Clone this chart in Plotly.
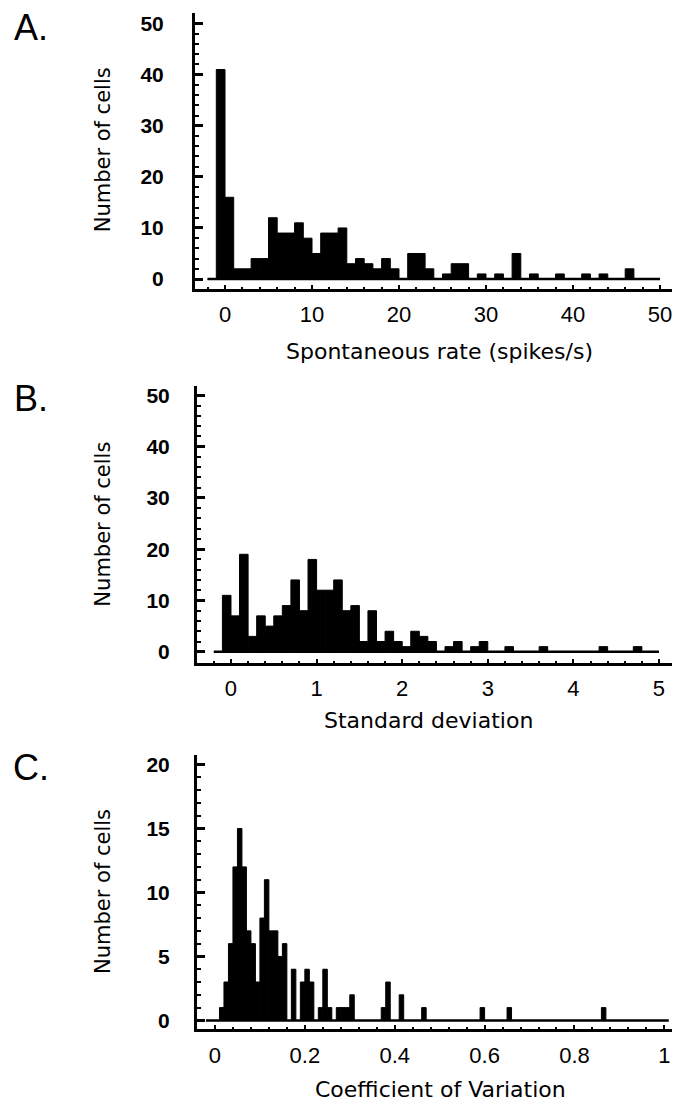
import plotly.graph_objects as go

W, H = 678, 1108

# ---------------- data ----------------
# Panel A: spontaneous rate histogram (bin width 1, left edges start at -2)
rate_bin_start = -2
rate_bin_width = 1
rate_counts = [0, 41, 16, 2, 2, 4, 4, 12, 9, 9, 11, 8, 5, 9, 9, 10, 3, 4, 3, 2, 4, 2,
               0, 5, 5, 2, 0, 1, 3, 3, 0, 1, 0, 1, 0, 5, 0, 1, 0, 0, 1, 0, 0, 1,
               0, 1, 0, 0, 2, 0, 0, 0]
rate_ticks = [0, 10, 20, 30, 40, 50]

# Panel B: standard deviation histogram (bin width 0.1, left edges start at -0.2)
sd_bin_start = -0.2
sd_bin_width = 0.1
sd_counts = [0, 11, 7, 19, 3, 7, 5, 7, 9, 14, 8, 18, 12, 12, 14, 8, 9, 2, 8, 2, 4, 2,
             1, 4, 3, 2, 0, 1, 2, 0, 1, 2, 0, 0, 1, 0, 0, 0, 1, 0, 0, 0, 0, 0, 0,
             1, 0, 0, 0, 1, 0, 0]
sd_ticks = [0, 1, 2, 3, 4, 5]

# Panel C: coefficient of variation histogram (bin width 0.01, range -0.02 .. 1.01)
cv_range = [-0.02, 1.01]
cv_bin_width = 0.01
cv_bin_left = [0.01, 0.02, 0.03, 0.04, 0.05, 0.06, 0.07, 0.08, 0.09, 0.10, 0.11, 0.12,
               0.13, 0.14, 0.15, 0.17, 0.19, 0.20, 0.21, 0.23, 0.24, 0.25, 0.27, 0.28,
               0.29, 0.30, 0.37, 0.38, 0.41, 0.46, 0.59, 0.65, 0.86]
cv_counts = [1, 3, 6, 12, 15, 12, 7, 6, 3, 8, 11, 7, 7, 5, 6, 4, 3, 4, 3, 1, 4, 1, 1, 1,
             1, 2, 1, 3, 2, 1, 1, 1, 1]
cv_ticks = [0, 0.2, 0.4, 0.6, 0.8, 1]
cv_ticktext = ["0", "0.2", "0.4", "0.6", "0.8", "1"]

panel_letters = ["A.", "B.", "C."]
x_titles = ["Spontaneous rate (spikes/s)", "Standard deviation", "Coefficient of Variation"]
y_title = "Number of cells"

# ---------------- figure ----------------
fig = go.Figure()

def add_hist(start, width, counts, xa, ya):
    centers = [start + width * (i + 0.5) for i in range(len(counts))]
    end = start + width * len(counts)
    fig.add_trace(go.Scatter(x=[start, end], y=[0, 0], mode="lines",
                             line=dict(color="black", width=2.5),
                             xaxis=xa, yaxis=ya, showlegend=False, hoverinfo="skip"))
    fig.add_trace(go.Bar(x=centers, y=counts, width=width,
                         marker=dict(color="black", line=dict(color="black", width=1)),
                         xaxis=xa, yaxis=ya, showlegend=False))

add_hist(rate_bin_start, rate_bin_width, rate_counts, "x", "y")
add_hist(sd_bin_start, sd_bin_width, sd_counts, "x2", "y2")

# panel C (sparse bins)
fig.add_trace(go.Scatter(x=cv_range, y=[0, 0], mode="lines",
                         line=dict(color="black", width=2.5),
                         xaxis="x3", yaxis="y3", showlegend=False, hoverinfo="skip"))
fig.add_trace(go.Bar(x=[b + cv_bin_width / 2 for b in cv_bin_left], y=cv_counts,
                     width=cv_bin_width,
                     marker=dict(color="black", line=dict(color="black", width=1)),
                     xaxis="x3", yaxis="y3", showlegend=False))

FONT = "Liberation Sans, Arial, sans-serif"
TITLEFONT = "DejaVu Sans, sans-serif"

def xaxis_cfg(px_left, px_right, rng, tickvals, ticktext, anchor, minor_dtick):
    return dict(domain=[px_left / W, px_right / W], range=rng, anchor=anchor,
                showline=True, linewidth=3, linecolor="black", mirror=False,
                ticks="inside", ticklen=4, tickwidth=2, tickcolor="black",
                tickvals=tickvals, ticktext=ticktext,
                tickfont=dict(family=FONT, size=22, color="black"),
                ticklabelstandoff=4,
                minor=dict(ticks="inside", ticklen=2, tickwidth=1.5, tickcolor="black",
                           dtick=minor_dtick, tick0=0),
                showgrid=False, zeroline=False, fixedrange=True)

def yaxis_cfg(px_top, px_bottom, rng, dtick, minor_dtick, anchor, standoff):
    return dict(domain=[1 - px_bottom / H, 1 - px_top / H], range=rng, anchor=anchor,
                showline=True, linewidth=3, linecolor="black",
                ticks="inside", ticklen=8, tickwidth=3, tickcolor="black",
                dtick=dtick, tick0=0,
                tickfont=dict(family=FONT, size=21, color="black", weight="bold"),
                ticklabelstandoff=standoff,
                minor=dict(ticks="inside", ticklen=4, tickwidth=2, tickcolor="black",
                           dtick=minor_dtick, tick0=0),
                showgrid=False, zeroline=False, fixedrange=True)

fig.update_layout(
    width=W, height=H, margin=dict(l=0, r=0, t=0, b=0),
    paper_bgcolor="white", plot_bgcolor="white", showlegend=False,
    xaxis=xaxis_cfg(195, 672, [-3.448, 51.38], rate_ticks, [str(t) for t in rate_ticks], "y", 2),
    yaxis=yaxis_cfg(10, 287, [-1.89, 52.07], 10, 2, "x", 24),
    xaxis2=xaxis_cfg(197, 672, [-0.397, 5.152], sd_ticks, [str(t) for t in sd_ticks], "y2", 0.2),
    yaxis2=yaxis_cfg(385, 663, [-2.19, 51.75], 10, 2, "x2", 20),
    xaxis3=xaxis_cfg(197, 672, [-0.04, 1.0171], cv_ticks, cv_ticktext, "y3", 0.04),
    yaxis3=yaxis_cfg(755, 1031, [-0.70, 20.78], 5, 1, "x3", 20),
)

ann = []
# panel letters
for letter, py in zip(panel_letters, [25, 397, 768]):
    ann.append(dict(text=letter, x=31 / W, y=1 - py / H, xref="paper", yref="paper",
                    xanchor="center", yanchor="middle", showarrow=False,
                    font=dict(family=FONT, size=36, color="black")))
# x titles
for t, px, py in zip(x_titles, [439, 428, 440], [350, 721, 1091]):
    ann.append(dict(text=t, x=px / W, y=1 - py / H, xref="paper", yref="paper",
                    xanchor="center", yanchor="middle", showarrow=False,
                    font=dict(family=TITLEFONT, size=22, color="black")))
# y titles
for py in [148, 524, 893]:
    ann.append(dict(text=y_title, x=103 / W, y=1 - py / H, xref="paper", yref="paper",
                    xanchor="center", yanchor="middle", showarrow=False, textangle=-90,
                    font=dict(family=TITLEFONT, size=21, color="black")))
fig.update_layout(annotations=ann)

fig.write_html("out.html")
